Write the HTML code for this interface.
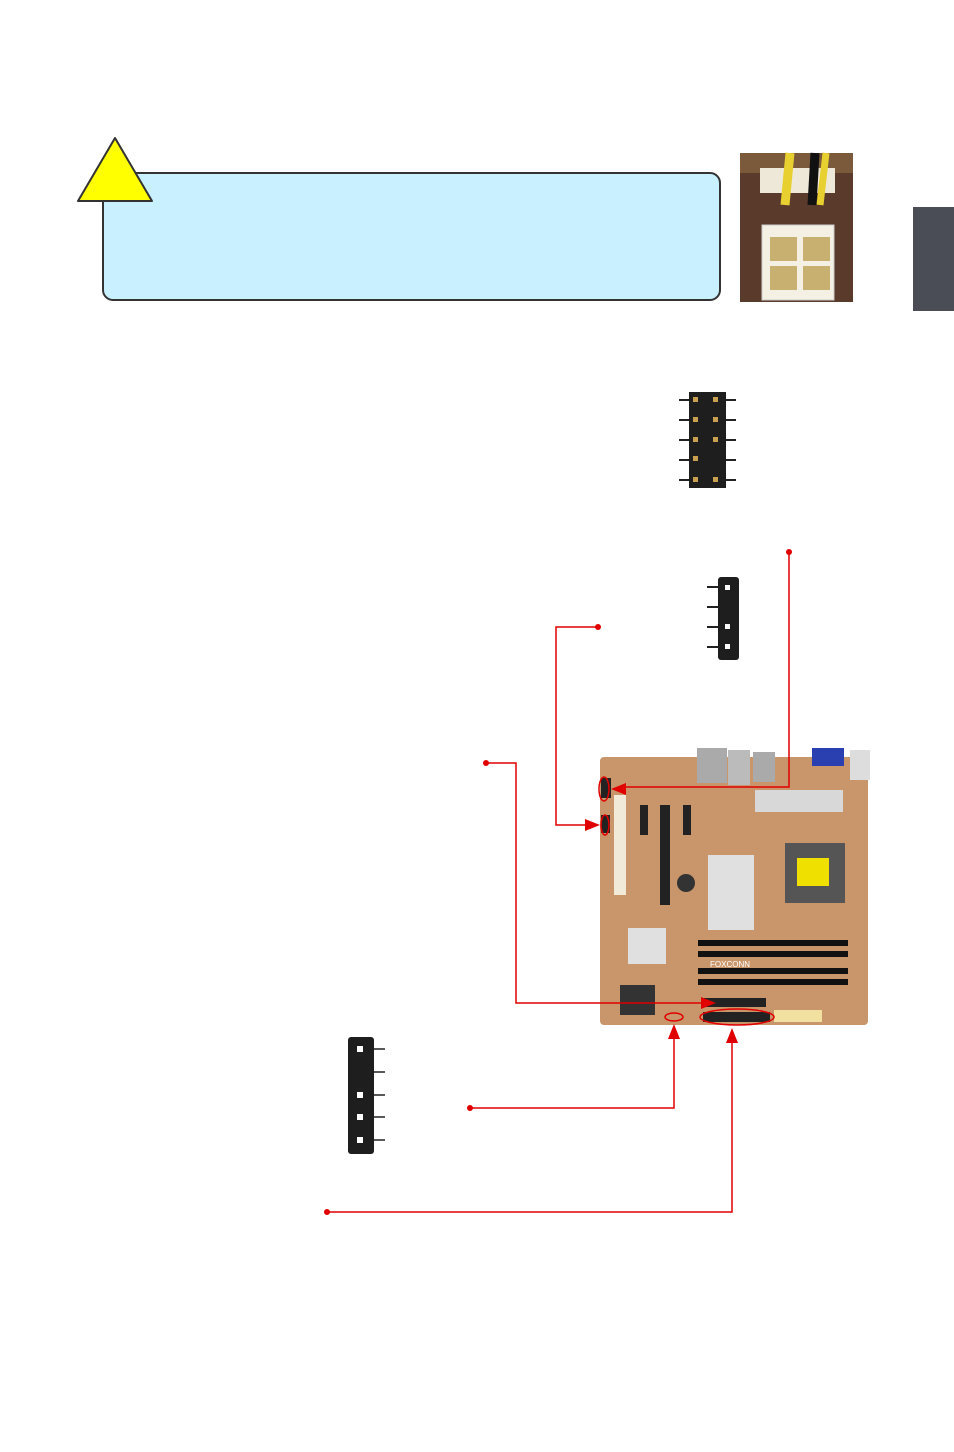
<!DOCTYPE html>
<html><head><style>
body{margin:0;background:#fff;width:954px;height:1452px;position:relative;overflow:hidden;font-family:"Liberation Sans",sans-serif}
</style></head><body>
<svg width="954" height="1452" style="position:absolute;left:0;top:0">
<rect x="913" y="207" width="41" height="104" fill="#4a4d55"/>
<rect x="103" y="173" width="617" height="127" rx="10" fill="#c8f0ff" stroke="#333" stroke-width="2"/>
<polygon points="115,138 78,201 152,201" fill="#ffff00" stroke="#333" stroke-width="2" stroke-linejoin="round"/>
<!-- power connector photo -->
<rect x="740" y="153" width="113" height="149" fill="#5a3a2a"/>
<rect x="740" y="153" width="113" height="20" fill="#7a5a3a"/>
<rect x="760" y="168" width="75" height="25" fill="#eee8d8"/>
<path d="M790 153 L785 205" stroke="#e8d030" stroke-width="9"/>
<path d="M815 153 L812 205" stroke="#111" stroke-width="9"/>
<path d="M826 153 L820 205" stroke="#e8d030" stroke-width="7"/>
<rect x="762" y="225" width="72" height="75" fill="#f4f0e4" stroke="#ccc"/>
<rect x="770" y="237" width="27" height="24" fill="#c8b070"/><rect x="803" y="237" width="27" height="24" fill="#c8b070"/>
<rect x="770" y="266" width="27" height="24" fill="#c8b070"/><rect x="803" y="266" width="27" height="24" fill="#c8b070"/>
<!-- 10-pin header -->
<rect x="689" y="392" width="37" height="96" fill="#1e1e1e"/>
<g fill="#c8a050"><rect x="693" y="397" width="5" height="5"/><rect x="713" y="397" width="5" height="5"/><rect x="693" y="417" width="5" height="5"/><rect x="713" y="417" width="5" height="5"/><rect x="693" y="437" width="5" height="5"/><rect x="713" y="437" width="5" height="5"/><rect x="693" y="456" width="5" height="5"/><rect x="693" y="477" width="5" height="5"/><rect x="713" y="477" width="5" height="5"/></g>
<g stroke="#222" stroke-width="2"><path d="M679 400h10M679 420h10M679 440h10M679 460h10M679 480h10M726 400h10M726 420h10M726 440h10M726 460h10M726 480h10"/></g>
<!-- 4-pin header -->
<rect x="718" y="577" width="21" height="83" rx="3" fill="#1e1e1e"/>
<g fill="#fff"><rect x="725" y="585" width="5" height="5"/><rect x="725" y="624" width="5" height="5"/><rect x="725" y="644" width="5" height="5"/></g>
<g stroke="#222" stroke-width="2"><path d="M707 587h11M707 607h11M707 627h11M707 647h11"/></g>
<!-- bottom header -->
<rect x="348" y="1037" width="26" height="117" rx="3" fill="#1e1e1e"/>
<g fill="#fff"><rect x="357" y="1046" width="6" height="6"/><rect x="357" y="1092" width="6" height="6"/><rect x="357" y="1114" width="6" height="6"/><rect x="357" y="1137" width="6" height="6"/></g>
<g stroke="#222" stroke-width="1.5"><path d="M374 1049h11M374 1072h11M374 1095h11M374 1117h11M374 1140h11"/></g>
<!-- motherboard -->
<rect x="600" y="757" width="268" height="268" rx="4" fill="#c8966a"/>
<rect x="697" y="748" width="30" height="35" fill="#aaa"/><rect x="728" y="750" width="22" height="35" fill="#bbb"/><rect x="753" y="752" width="22" height="30" fill="#aaa"/>
<rect x="812" y="748" width="32" height="18" fill="#2a40b0"/><rect x="850" y="750" width="20" height="30" fill="#ddd"/>
<rect x="614" y="795" width="12" height="100" fill="#f2ead8"/>
<rect x="660" y="805" width="10" height="100" fill="#222"/><rect x="640" y="805" width="8" height="30" fill="#222"/><rect x="683" y="805" width="8" height="30" fill="#222"/>
<rect x="755" y="790" width="88" height="22" fill="#d8d8d8"/>
<rect x="708" y="855" width="46" height="75" fill="#e0e0e0"/>
<rect x="628" y="928" width="38" height="36" fill="#e0e0e0"/>
<circle cx="686" cy="883" r="9" fill="#333"/>
<rect x="785" y="843" width="60" height="60" fill="#555"/><rect x="797" y="858" width="32" height="28" fill="#f0e000"/>
<rect x="698" y="940" width="150" height="6" fill="#111"/><rect x="698" y="951" width="150" height="6" fill="#111"/>
<rect x="698" y="968" width="150" height="6" fill="#111"/><rect x="698" y="979" width="150" height="6" fill="#111"/>
<text x="710" y="967" font-size="8" fill="#fff">FOXCONN</text>
<rect x="704" y="998" width="62" height="9" fill="#222"/><rect x="703" y="1012" width="67" height="10" fill="#222"/>
<rect x="774" y="1010" width="48" height="12" fill="#f2e0a0"/>
<rect x="620" y="985" width="35" height="30" fill="#333"/>
<rect x="601" y="778" width="10" height="20" fill="#222"/><rect x="601" y="815" width="9" height="18" fill="#222"/>
<!-- red leaders -->
<g stroke="#e00000" stroke-width="1.5" fill="none">
<path d="M789 552V787H618"/><path d="M598 627H556V825H592"/><path d="M486 763H516V1003H708"/>
<path d="M470 1108H674V1036"/><path d="M327 1212H732V1040"/>
<ellipse cx="604" cy="789" rx="5" ry="12"/><ellipse cx="605" cy="825" rx="4" ry="10"/>
<ellipse cx="674" cy="1017" rx="9" ry="4"/><ellipse cx="737" cy="1017" rx="37" ry="8"/>
</g>
<g fill="#e00000">
<circle cx="789" cy="552" r="3"/><circle cx="598" cy="627" r="3"/><circle cx="486" cy="763" r="3"/><circle cx="470" cy="1108" r="3"/><circle cx="327" cy="1212" r="3"/>
<polygon points="611,789 626,783 626,795"/><polygon points="600,825 585,819 585,831"/><polygon points="716,1003 701,997 701,1009"/>
<polygon points="674,1024 668,1039 680,1039"/><polygon points="732,1028 726,1043 738,1043"/>
</g>
</svg>
</body></html>
